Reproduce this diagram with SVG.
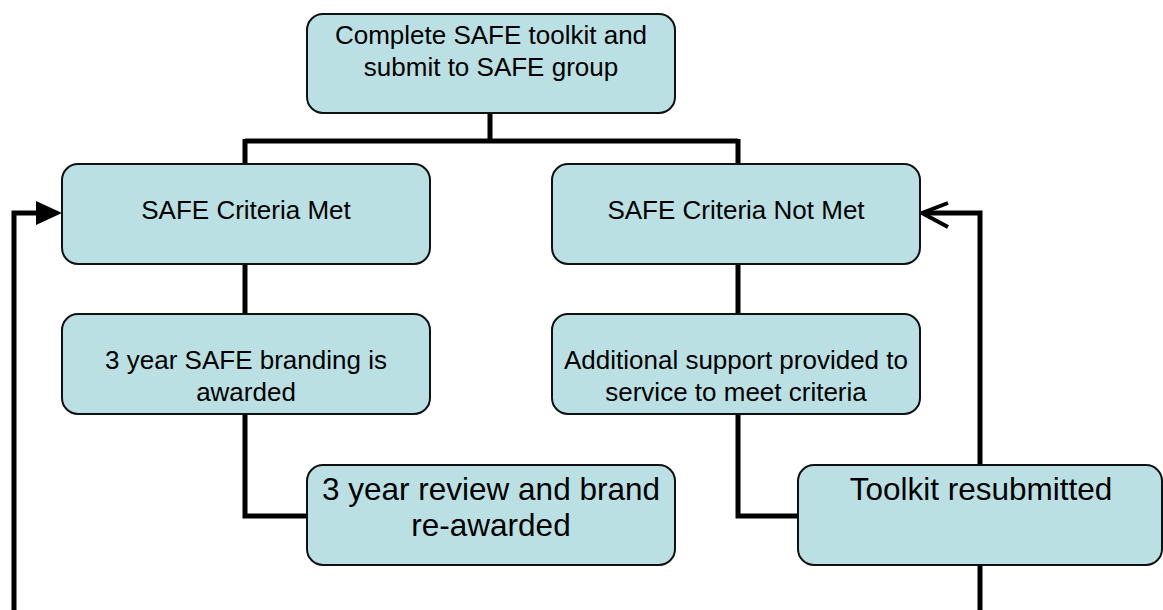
<svg xmlns="http://www.w3.org/2000/svg" width="1163" height="610" viewBox="0 0 1163 610">
<style>
.box{fill:#bae0e3;stroke:#111;stroke-width:2}
.t{font-family:"Liberation Sans",Arial,sans-serif;font-size:26px;fill:#000;text-anchor:middle}
.tl{font-family:"Liberation Sans",Arial,sans-serif;font-size:31.5px;fill:#000;text-anchor:middle}
.c{fill:none;stroke:#000;stroke-width:5}
</style>
<g id="connectors">
<path class="c" d="M490,113 V141 M245,141 H738 M245,139 V164 M738,139 V164"/>
<path class="c" d="M245,264 V314"/>
<path class="c" d="M738,264 V314"/>
<path class="c" d="M245,414 V516 H307"/>
<path class="c" d="M738,414 V516 H798"/>
<path class="c" d="M14,610 V213 H36"/>
<path d="M36,201 L62,213 L36,225 Z" fill="#000"/>
<path class="c" d="M980,610 V213 H924"/>
<path d="M948,203 L922,213 L948,227" fill="none" stroke="#000" stroke-width="4"/>
</g>
<g id="n1"><rect class="box" x="307" y="14" width="368" height="99" rx="16"/>
<text class="t" x="491" y="44">Complete SAFE toolkit and</text>
<text class="t" x="491" y="76">submit to SAFE group</text></g>
<g id="n2"><rect class="box" x="62" y="164" width="368" height="100" rx="16"/>
<text class="t" x="246" y="219">SAFE Criteria Met</text></g>
<g id="n3"><rect class="box" x="552" y="164" width="368" height="100" rx="16"/>
<text class="t" x="736" y="219">SAFE Criteria Not Met</text></g>
<g id="n4"><rect class="box" x="62" y="314" width="368" height="100" rx="16"/>
<text class="t" x="246" y="369">3 year SAFE branding is</text>
<text class="t" x="246" y="401">awarded</text></g>
<g id="n5"><rect class="box" x="552" y="314" width="368" height="100" rx="16"/>
<text class="t" x="736" y="369">Additional support provided to</text>
<text class="t" x="736" y="401">service to meet criteria</text></g>
<g id="n6"><rect class="box" x="307" y="465" width="368" height="100" rx="16"/>
<text class="tl" x="491" y="500">3 year review and brand</text>
<text class="tl" x="491" y="536">re-awarded</text></g>
<g id="n7"><rect class="box" x="798" y="465" width="364" height="100" rx="16"/>
<text class="tl" x="981" y="500">Toolkit resubmitted</text></g>
</svg>
